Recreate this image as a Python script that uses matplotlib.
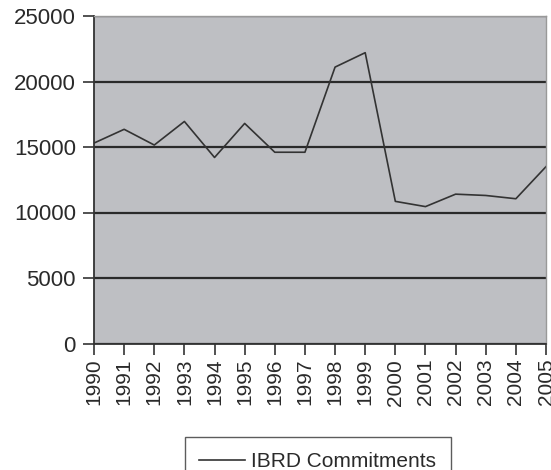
import matplotlib
matplotlib.use("Agg")
import matplotlib.pyplot as plt

years = list(range(1990, 2006))
commitments = [15300, 16350, 15150, 16950, 14200, 16800, 14600, 14600,
               21100, 22200, 10850, 10450, 11400, 11300, 11050, 13500]
y_ticks = [0, 5000, 10000, 15000, 20000, 25000]

plt.rcParams["font.family"] = ["Liberation Sans", "DejaVu Sans"]

fig = plt.figure(figsize=(5.51, 4.70), dpi=100)
ax = fig.add_axes([94 / 551, 1 - 343.5 / 470, (546 - 94) / 551, (343.5 - 16) / 470])
ax.set_facecolor("#bebfc3")

ax.plot(years, commitments, color="#333333", linewidth=1.2, label="IBRD Commitments")

ax.set_xlim(1990, 2005)
ax.set_ylim(0, 25000)
ax.set_yticks(y_ticks)
ax.set_yticklabels([str(v) for v in y_ticks], fontsize=16, color="#2a2a2a")
ax.set_xticks(years)
ax.set_xticklabels([str(y) for y in years], rotation=90, fontsize=15, color="#2a2a2a")
ax.grid(axis="y", color="#2a2a2a", linewidth=1.6)
ax.set_axisbelow(True)

ax.tick_params(axis="both", direction="out", length=8, width=1.2, color="#333333")
ax.tick_params(axis="y", pad=5)
ax.tick_params(axis="x", pad=3)
for side in ["left", "bottom"]:
    ax.spines[side].set_color("#333333")
    ax.spines[side].set_linewidth(1.3)
for side in ["top", "right"]:
    ax.spines[side].set_color("#999999")
    ax.spines[side].set_linewidth(1.0)

# legend sits partly below the figure edge, as in the source image
leg = fig.legend(loc="upper center", bbox_to_anchor=(0.577, 1 - 427 / 470),
                 fontsize=15, frameon=True, fancybox=False, handlelength=2.2,
                 handletextpad=0.3, borderpad=0.7)
leg.get_frame().set_edgecolor("#333333")
leg.get_frame().set_linewidth(1.0)
for t in leg.get_texts():
    t.set_color("#2a2a2a")

fig.savefig("out.png", dpi=100)
